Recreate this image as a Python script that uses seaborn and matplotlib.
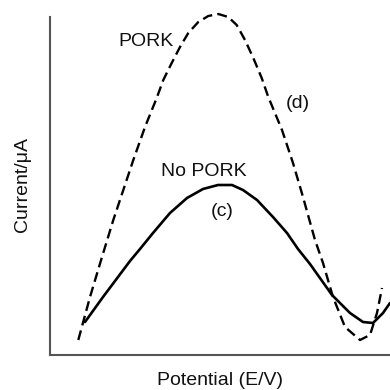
import matplotlib
matplotlib.use("Agg")
import matplotlib.pyplot as plt
import seaborn as sns
import pandas as pd

# Voltammograms (arbitrary units: potential along x, current along y)
pork_potential = [28.3, 40, 51.7, 63.3, 73.3, 83.3, 95, 106.7, 113.3, 121.7, 130, 138.3,
                  148.3, 158.3, 168.3, 178.3, 186.7, 195, 203.3, 211.7, 218.3, 232,
                  243, 253, 265, 273, 283, 295, 310, 320, 327, 332]
pork_current = [15, 58, 97, 135, 165, 195, 228, 257, 275, 292, 308, 322,
                333, 339, 341, 338, 330, 315, 297, 277, 258, 225,
                192, 158, 115, 92, 58, 28, 15, 20, 42, 67]

nopork_potential = [35, 53, 80, 90, 103, 120, 137, 153, 168, 182, 193, 207, 223, 237,
                    248, 260, 282, 300, 313, 323, 333, 340]
nopork_current = [33, 58, 94, 106, 122, 142, 157, 166, 170, 170, 165, 155, 138, 122,
                  106, 91, 60, 42, 33, 32, 42, 52]

curve_labels = [("PORK", 95.5, 313), ("(d)", 248, 252),
                ("No PORK", 154, 183), ("(c)", 172.5, 144)]

sns.set_style("white")
plt.rcParams["font.family"] = ["Liberation Sans", "DejaVu Sans"]

fig = plt.figure(figsize=(3.9, 3.9), dpi=100)
ax = fig.add_axes([50 / 390, 35 / 390, 340 / 390, 338 / 390])

pork = pd.DataFrame({"E": pork_potential, "I": pork_current})
nopork = pd.DataFrame({"E": nopork_potential, "I": nopork_current})

sns.lineplot(data=pork, x="E", y="I", ax=ax, color="black", lw=1.7,
             linestyle=(0, (4.2, 2.2)), clip_on=False, sort=False)
sns.lineplot(data=nopork, x="E", y="I", ax=ax, color="black", lw=1.9,
             clip_on=False, sort=False)

for text, x, y in curve_labels:
    ax.text(x, y, text, ha="center", va="center", fontsize=14, color="#111111")

ax.set_xlim(0, 340)
ax.set_ylim(0, 338)
ax.set_xticks([])
ax.set_yticks([])

for side in ("top", "right"):
    ax.spines[side].set_visible(False)
for side in ("left", "bottom"):
    ax.spines[side].set_color("#555555")
    ax.spines[side].set_linewidth(1.5)

ax.set_xlabel("Potential (E/V)", fontsize=14, va="center", color="#111111")
ax.xaxis.set_label_coords(0.5, -0.074)
ax.set_ylabel("Current/\u03bcA", fontsize=14, va="center", ha="center", color="#111111")
ax.yaxis.set_label_coords(-0.082, 0.503)

fig.savefig("out.png", dpi=100, facecolor="white")
